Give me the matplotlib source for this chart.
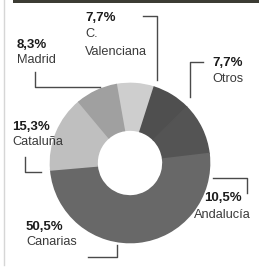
import matplotlib
matplotlib.use("Agg")
from matplotlib import pyplot as plt

# data: share of total, in clockwise order from the top
regions = ["C.\nValenciana", "Otros", "Andalucía", "Canarias", "Cataluña", "Madrid"]
shares = [7.7, 7.7, 10.5, 50.5, 15.3, 8.3]
pct_labels = ["7,7%", "7,7%", "10,5%", "50,5%", "15,3%", "8,3%"]

colors = ["#cecece", "#4f4f4f", "#545454", "#686868", "#bfbfbf", "#a0a0a0"]

W, H = 259, 271

# label layout in image pixels: (x of name, y of pct, y of name, leader polyline)
layout = [
    (85, 18, 43, [(143, 16), (157, 16), (157, 80)]),
    (212, 63, 79, [(203, 62), (190, 62), (190, 97)]),
    (194, 198, 215, [(213, 178), (247, 178), (247, 193)]),
    (26, 227, 242, [(88, 257), (117, 257), (117, 245)]),
    (12, 127, 142, [(25, 157), (25, 172), (41, 172)]),
    (17, 45, 60, [(35, 72), (35, 87), (100, 87)]),
]
pct_x = [85, 212, 204, 26, 12, 17]

plt.rcParams['font.family'] = ['Liberation Sans', 'DejaVu Sans']

fig = plt.figure(figsize=(W / 100, H / 100), dpi=100)
ax = fig.add_axes([0, 0, 1, 1])

wedges, _ = ax.pie(shares, colors=colors, startangle=100, counterclock=False,
                   radius=79.5, center=(130, H - 163),
                   wedgeprops=dict(width=46.5, linewidth=1.2))
for w, c in zip(wedges, colors):
    w.set_edgecolor(c)

ax.set_xlim(0, W)
ax.set_ylim(0, H)
ax.set_aspect('equal')
ax.axis('off')

# frame bits from the page
ax.add_patch(plt.Rectangle((13, H - 3), W - 13, 3, color="#3c3c34", lw=0))
ax.plot([4, 4], [H - 265, H], color="#d6d6d6", lw=1)

for i, name in enumerate(regions):
    tx, py, ny, line = layout[i]
    xs = [p[0] for p in line]
    ys = [H - p[1] for p in line]
    ax.plot(xs, ys, color="#4a4a4a", lw=1)
    ax.text(pct_x[i], H - py, pct_labels[i], fontsize=9.5, fontweight='bold',
            color="#1c1c1c", ha='left', va='center')
    if "\n" in name:
        first, second = name.split("\n")
        ax.text(tx, H - 34, first, fontsize=9.2, color="#3a3a3a",
                ha='left', va='center')
        ax.text(tx, H - 52, second, fontsize=9.2, color="#3a3a3a",
                ha='left', va='center')
    else:
        ax.text(tx, H - ny, name, fontsize=9.2, color="#3a3a3a",
                ha='left', va='center')

fig.savefig("out.png", dpi=100)
